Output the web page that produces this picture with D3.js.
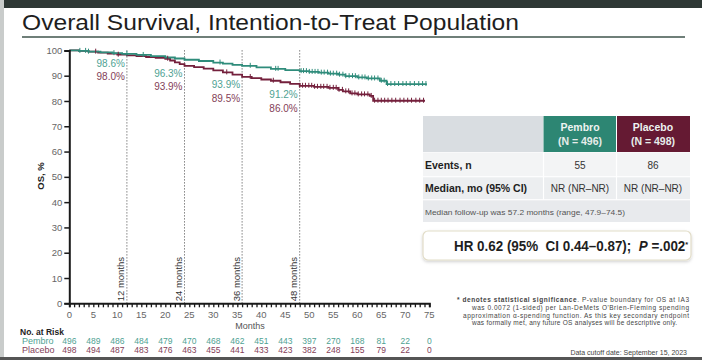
<!DOCTYPE html>
<html><head><meta charset="utf-8">
<script src="https://cdn.jsdelivr.net/npm/d3@7"></script>
<style>
html,body{margin:0;padding:0;background:#fff;}
svg{display:block;font-family:"Liberation Sans",Arial,sans-serif;}
</style></head>
<body>
<svg id="c" width="702" height="360"></svg>
<script>
// ---------------- DATA ----------------
const title = "Overall Survival, Intention-to-Treat Population";
const xTicks = [0,5,10,15,20,25,30,35,40,45,50,55,60,65,70,75];
const yTicks = [0,10,20,30,40,50,60,70,80,90,100];

const pembroTimes = [0, 2, 4, 6.5, 9, 11, 14, 17, 20, 22, 24, 27, 30, 32, 34, 36, 39, 42, 45, 48, 50, 52, 54, 56, 57.5, 60, 62, 64.7, 66.1];
const pembroSurv  = [100, 99.8, 99.5, 99.2, 98.9, 98.6, 98.2, 97.7, 97.2, 96.8, 96.3, 95.8, 95.2, 94.8, 94.3, 93.9, 93.3, 92.7, 92.2, 91.8, 91.5, 91.2, 90.8, 90.4, 89.8, 89.3, 88.9, 88.0, 86.7];
const pembroEnd = 74.5;

const placeboTimes = [0, 2, 4, 6, 8, 10, 12, 14, 16, 18, 20, 21, 22, 23, 24, 26, 28, 30, 32, 34, 36, 38, 40, 42, 44, 46, 48, 51, 54, 56, 57, 58.5, 60, 62.6, 63.3];
const placeboSurv  = [100, 99.8, 99.5, 99.1, 98.7, 98.3, 98.0, 97.7, 97.4, 97.1, 96.7, 96.0, 95.3, 94.6, 93.9, 93.4, 92.8, 92.1, 91.3, 90.4, 89.5, 89.0, 88.5, 88.0, 87.4, 86.8, 86.0, 85.6, 85.2, 84.4, 83.8, 83.0, 82.6, 82.0, 80.1];
const placeboEnd = 74.1;

const pembroCensor = [2.2, 3.4, 4.0, 9.3, 12.0, 15.4, 31.4, 37.7, 43.0, 43.5, 48.3, 48.8, 49.4, 50.0, 50.6, 51.2, 51.8, 52.5, 53.1, 53.8, 54.4, 55.0, 55.7, 56.3, 57.0, 57.6, 58.3, 59.0, 59.6, 60.3, 61.0, 61.6, 62.3, 63.0, 63.6, 64.3, 65.0, 65.6, 66.3, 67.0, 67.8, 68.6, 69.5, 70.2, 71.0, 71.9, 72.8, 73.6, 74.3];
const placeboCensor = [5.5, 10.2, 20.5, 32.8, 37.7, 42.5, 48.0, 48.6, 49.2, 49.9, 50.5, 51.1, 51.7, 52.4, 53.0, 53.7, 54.3, 55.0, 55.6, 56.2, 56.9, 57.6, 58.2, 58.9, 59.5, 60.2, 60.9, 61.5, 62.2, 62.9, 63.6, 64.3, 65.0, 65.7, 66.4, 67.2, 68.0, 68.9, 69.7, 70.5, 71.3, 72.2, 73.0, 73.8];

const landmarkMonths = [12, 24, 36, 48];
const pembroLandmark = ["98.6%", "96.3%", "93.9%", "91.2%"];
const placeboLandmark = ["98.0%", "93.9%", "89.5%", "86.0%"];

const riskMonths = [0,5,10,15,20,25,30,35,40,45,50,55,60,65,70,75];
const pembroRisk  = [496,489,486,484,479,470,468,462,451,443,397,270,168,81,22,0];
const placeboRisk = [498,494,487,483,476,463,455,441,433,423,382,248,155,79,22,0];

const tableHeader = [["Pembro","(N = 496)"],["Placebo","(N = 498)"]];
const tableRows = [["Events, n","55","86"],["Median, mo (95% CI)","NR (NR–NR)","NR (NR–NR)"]];
const followUp = "Median follow-up was 57.2 months (range, 47.9–74.5)";
const footnote = [
  "was 0.0072 (1-sided) per Lan-DeMets O'Brien-Fleming spending",
  "approximation α-spending function. As this key secondary endpoint",
  "was formally met, any future OS analyses will be descriptive only."
];
const cutoff = "Data cutoff date: September 15, 2023";

// ---------------- STYLE ----------------
const TEAL = "#2f8c7b", MAROON = "#74203c";
const TEAL_T = "#4fa293", MAROON_T = "#843e58";
const svg = d3.select("#c");

// frame
svg.append("rect").attr("x",0).attr("y",0).attr("width",702).attr("height",8).attr("fill","#2e3835");
svg.append("rect").attr("x",0).attr("y",0).attr("width",4).attr("height",360).attr("fill","#c9cccb");
svg.append("rect").attr("x",0).attr("y",357).attr("width",702).attr("height",3).attr("fill","#555");

// title
svg.append("text").attr("x",22).attr("y",30).attr("font-size",22).attr("fill","#1e1e1e")
  .attr("textLength",497).attr("lengthAdjust","spacingAndGlyphs").text(title);
svg.append("line").attr("x1",22).attr("x2",685).attr("y1",37).attr("y2",37)
  .attr("stroke","#6f7f79").attr("stroke-width",2);

// scales
const x = d3.scaleLinear().domain([0,75]).range([69.3,429.3]);
const y = d3.scaleLinear().domain([0,100]).range([303.3,50.4]);

// landmark dotted lines
svg.selectAll(".lm").data(landmarkMonths).join("line")
  .attr("x1",d=>x(d)).attr("x2",d=>x(d)).attr("y1",y(100)).attr("y2",y(0))
  .attr("stroke","#444").attr("stroke-width",1).attr("stroke-dasharray","1,2");
svg.selectAll(".lmt").data(landmarkMonths).join("text")
  .attr("transform",d=>`translate(${x(d)-2.5},${y(0)-2}) rotate(-90)`)
  .attr("font-size",9.5).attr("fill","#333").text(d=>d+" months");

// curves
function stepPts(times, surv, end){
  const pts = times.map((t,i)=>[t,surv[i]]);
  pts.push([end, surv[surv.length-1]]);
  return pts;
}
function survAt(times, surv, t){
  let v = surv[0];
  for(let i=0;i<times.length;i++){ if(times[i]<=t) v=surv[i]; }
  return v;
}
const line = d3.line().x(d=>x(d[0])).y(d=>y(d[1])).curve(d3.curveStepAfter);
svg.append("path").attr("d",line(stepPts(placeboTimes,placeboSurv,placeboEnd)))
  .attr("fill","none").attr("stroke",MAROON).attr("stroke-width",1.8);
svg.append("path").attr("d",line(stepPts(pembroTimes,pembroSurv,pembroEnd)))
  .attr("fill","none").attr("stroke",TEAL).attr("stroke-width",1.8);
svg.selectAll(".cp").data(placeboCensor).join("line")
  .attr("x1",d=>x(d)).attr("x2",d=>x(d))
  .attr("y1",d=>y(survAt(placeboTimes,placeboSurv,d))-3).attr("y2",d=>y(survAt(placeboTimes,placeboSurv,d))+2)
  .attr("stroke",MAROON).attr("stroke-width",1);
svg.selectAll(".ct").data(pembroCensor).join("line")
  .attr("x1",d=>x(d)).attr("x2",d=>x(d))
  .attr("y1",d=>y(survAt(pembroTimes,pembroSurv,d))-3).attr("y2",d=>y(survAt(pembroTimes,pembroSurv,d))+2)
  .attr("stroke",TEAL).attr("stroke-width",1);

// landmark labels
const labelY = [66.5, 76.5, 88, 98];
svg.selectAll(".lp").data(pembroLandmark).join("text")
  .attr("x",(d,i)=>x(landmarkMonths[i])-2).attr("y",(d,i)=>labelY[i])
  .attr("text-anchor","end").attr("font-size",10).attr("fill",TEAL_T).text(d=>d);
svg.selectAll(".lq").data(placeboLandmark).join("text")
  .attr("x",(d,i)=>x(landmarkMonths[i])-2).attr("y",(d,i)=>labelY[i]+13.5)
  .attr("text-anchor","end").attr("font-size",10).attr("fill",MAROON_T).text(d=>d);

// axes
const gx = svg.append("g").attr("transform",`translate(0,${y(0)})`)
  .call(d3.axisBottom(x).tickValues(d3.range(0,76,1)).tickSize(4).tickFormat(""));
gx.select(".domain").attr("stroke","#1a1a1a").attr("stroke-width",2);
gx.selectAll(".tick line").attr("stroke","#1a1a1a").attr("stroke-width",1.3);
svg.selectAll(".xl").data(xTicks).join("text")
  .attr("x",d=>x(d)).attr("y",318).attr("text-anchor","middle")
  .attr("font-size",9.5).attr("fill","#666").text(d=>d);
svg.append("text").attr("x",250).attr("y",328.5).attr("text-anchor","middle")
  .attr("font-size",9).attr("fill","#555").text("Months");

const gy = svg.append("g").attr("transform",`translate(${x(0)},0)`)
  .call(d3.axisLeft(y).tickValues(yTicks).tickSize(5).tickFormat(d=>d).tickPadding(2));
gy.select(".domain").attr("stroke","#1a1a1a").attr("stroke-width",2);
gy.selectAll(".tick line").attr("stroke","#1a1a1a").attr("stroke-width",1.5);
gy.selectAll(".tick text").attr("font-size",9.5).attr("fill","#666")
  .attr("font-family","'Liberation Sans',Arial,sans-serif");
svg.append("text").attr("transform","translate(44,176) rotate(-90)")
  .attr("text-anchor","middle").attr("font-size",9.5).attr("font-weight","bold")
  .attr("fill","#222").text("OS, %");

// number at risk
svg.append("text").attr("x",20).attr("y",335).attr("font-size",8.5).attr("font-weight","bold")
  .attr("fill","#222").text("No. at Risk");
svg.append("text").attr("x",22).attr("y",343.5).attr("font-size",9).attr("fill",TEAL_T).text("Pembro");
svg.append("text").attr("x",22).attr("y",352.5).attr("font-size",9).attr("fill",MAROON_T).text("Placebo");
svg.selectAll(".rp").data(pembroRisk).join("text")
  .attr("x",(d,i)=>x(riskMonths[i])).attr("y",343.5).attr("text-anchor","middle")
  .attr("font-size",8.5).attr("fill",TEAL_T).text(d=>d);
svg.selectAll(".rq").data(placeboRisk).join("text")
  .attr("x",(d,i)=>x(riskMonths[i])).attr("y",352.5).attr("text-anchor","middle")
  .attr("font-size",8.5).attr("fill",MAROON_T).text(d=>d);

// table
const T = svg.append("g");
T.append("rect").attr("x",423).attr("y",116).attr("width",120).attr("height",36).attr("fill","#d9dde1");
T.append("rect").attr("x",543.5).attr("y",116).attr("width",72.5).attr("height",36).attr("fill","#2d8673");
T.append("rect").attr("x",617).attr("y",116).attr("width",73).attr("height",36).attr("fill","#651a33");
T.append("rect").attr("x",423).attr("y",152.5).attr("width",267).attr("height",24).attr("fill","#f3f4f5");
T.append("rect").attr("x",423).attr("y",177).attr("width",267).attr("height",22.5).attr("fill","#eceef0");
T.append("rect").attr("x",423).attr("y",200).attr("width",267).attr("height",22).attr("fill","#e8eaed");
[[543.5,152.5,199.5],[616.5,152.5,199.5]].forEach(v=>{
  T.append("line").attr("x1",v[0]).attr("x2",v[0]).attr("y1",v[1]).attr("y2",v[2]).attr("stroke","#fff").attr("stroke-width",1.2);
});
T.append("line").attr("x1",423).attr("x2",690).attr("y1",176.8).attr("y2",176.8).attr("stroke","#fff").attr("stroke-width",1);
T.append("line").attr("x1",423).attr("x2",690).attr("y1",199.8).attr("y2",199.8).attr("stroke","#fff").attr("stroke-width",1);
const colX = [580, 653];
tableHeader.forEach((h,i)=>{
  T.append("text").attr("x",colX[i]).attr("y",130.5).attr("text-anchor","middle")
    .attr("font-size",10.5).attr("font-weight","bold").attr("fill","#eef3f1").text(h[0]);
  T.append("text").attr("x",colX[i]).attr("y",145).attr("text-anchor","middle")
    .attr("font-size",10.5).attr("font-weight","bold").attr("fill","#e6ecea").text(h[1]);
});
const rowY = [168.5, 192];
tableRows.forEach((r,i)=>{
  T.append("text").attr("x",425).attr("y",rowY[i]).attr("font-size",10.5).attr("font-weight","bold")
    .attr("fill","#1e1e1e").text(r[0]);
  T.append("text").attr("x",colX[0]).attr("y",rowY[i]).attr("text-anchor","middle")
    .attr("font-size",10).attr("fill","#333").text(r[1]);
  T.append("text").attr("x",colX[1]).attr("y",rowY[i]).attr("text-anchor","middle")
    .attr("font-size",10).attr("fill","#333").text(r[2]);
});
T.append("text").attr("x",425).attr("y",214.5).attr("font-size",7.5).attr("fill","#555")
  .attr("textLength",200).attr("lengthAdjust","spacingAndGlyphs").text(followUp);

// HR box
const defs = svg.append("defs");
const f = defs.append("filter").attr("id","sh").attr("x","-5%").attr("y","-20%").attr("width","110%").attr("height","150%");
f.append("feDropShadow").attr("dx",0).attr("dy",1.5).attr("stdDeviation",1.5).attr("flood-color","#000").attr("flood-opacity",0.18);
svg.append("rect").attr("x",423).attr("y",231).attr("width",268).attr("height",29).attr("rx",5)
  .attr("fill","#fff").attr("stroke","#e2ddc8").attr("stroke-width",1.2).attr("filter","url(#sh)");
const hr = svg.append("g").attr("transform","translate(454,251) scale(0.925,1)")
  .append("text").attr("x",0).attr("y",0).attr("font-size",14.5).attr("font-weight","bold")
  .attr("fill","#1e1e1e").attr("xml:space","preserve");
hr.append("tspan").text("HR 0.62 (95%  CI 0.44–0.87);  ");
hr.append("tspan").attr("font-style","italic").text("P");
hr.append("tspan").text(" =.002");
hr.append("tspan").attr("font-size",8).attr("baseline-shift","super").text("*");

// footnote
const fn1 = svg.append("text").attr("x",457).attr("y",302).attr("font-size",6.5).attr("fill","#444")
  .attr("textLength",232).attr("lengthAdjust","spacing");
fn1.append("tspan").attr("font-weight","bold").text("* denotes statistical significance");
fn1.append("tspan").text(". P-value boundary for OS at IA3");
svg.append("text").attr("x",472).attr("y",309.8).attr("font-size",6.5).attr("fill","#444")
  .attr("textLength",217).attr("lengthAdjust","spacing").text(footnote[0]);
svg.append("text").attr("x",463).attr("y",317.6).attr("font-size",6.5).attr("fill","#444")
  .attr("textLength",226).attr("lengthAdjust","spacing").text(footnote[1]);
svg.append("text").attr("x",472).attr("y",325.4).attr("font-size",6.5).attr("fill","#444")
  .attr("textLength",205).attr("lengthAdjust","spacing").text(footnote[2]);
svg.append("text").attr("x",687).attr("y",355).attr("text-anchor","end").attr("font-size",7)
  .attr("fill","#444").text(cutoff);
</script>
</body></html>
